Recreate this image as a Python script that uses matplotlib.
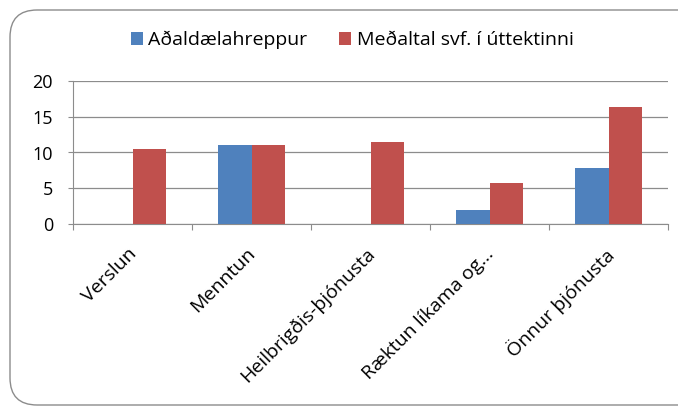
import matplotlib
matplotlib.use("Agg")
import matplotlib.pyplot as plt
import matplotlib.transforms as mtransforms
from matplotlib.patches import FancyBboxPatch
import numpy as np

categories = ["Verslun", "Menntun", "Heilbrigðis-þjónusta", "Ræktun líkama og…", "Önnur þjónusta"]
series_names = ["Aðaldælahreppur", "Meðaltal svf. í úttektinni"]
adal = [0, 11, 0, 1.9, 7.8]
medal = [10.5, 11, 11.5, 5.8, 16.3]
yticks = [0, 5, 10, 15, 20]

plt.rcParams['font.family'] = ['Open Sans', 'DejaVu Sans']
fig = plt.figure(figsize=(6.78, 4.11), dpi=100)
border = FancyBboxPatch((10/678, 6/411), 700/678, (411-10-6)/411,
                        boxstyle="round,pad=0,rounding_size=0.04",
                        transform=fig.transFigure, fc="white", ec="#8c8c8c", lw=1.0,
                        mutation_aspect=678/411, zorder=-10)
fig.patches.append(border)

ax = fig.add_axes([73/678, 1-224/411, (668-73)/678, (224-81)/411])
ax.set_zorder(5)
ax.patch.set_alpha(0)
x = np.arange(len(categories))
w = 0.285
ax.bar(x - w/2, adal, w, color="#4F81BD", label=series_names[0], zorder=3)
ax.bar(x + w/2, medal, w, color="#C0504D", label=series_names[1], zorder=3)
ax.set_xlim(-0.5, len(categories) - 0.5)
ax.set_ylim(0, 20)
ax.set_yticks(yticks)
ax.set_yticklabels([str(v) for v in yticks], fontsize=13)
ax.yaxis.grid(True, color="#8c8c8c", lw=0.9, zorder=0)
ax.set_xticks(np.arange(len(categories) + 1) - 0.5)
ax.set_xticklabels([])
ax.set_xticks(x, minor=True)
ax.set_xticklabels(categories, minor=True, rotation=45, ha="right", va="top",
                   rotation_mode="anchor", fontsize=14)
ax.tick_params(axis="x", which="minor", length=0, pad=14.8)
ax.tick_params(axis="x", which="major", length=4.3, color="#8c8c8c")
ax.tick_params(axis="y", length=3.6, color="#8c8c8c", pad=10.8)
off = mtransforms.ScaledTranslation(-5/100, 0, fig.dpi_scale_trans)
for lbl in ax.get_xticklabels(minor=True):
    lbl.set_transform(lbl.get_transform() + off)
for s in ["top", "right"]:
    ax.spines[s].set_visible(False)
for s in ["left", "bottom"]:
    ax.spines[s].set_color("#8c8c8c")
fig.legend(loc="center", bbox_to_anchor=(352/678, 1-40/411), ncol=2, frameon=False,
           fontsize=14, handlelength=0.62, handleheight=0.62, columnspacing=1.6, handletextpad=0.3)
fig.savefig("out.png", dpi=100)
